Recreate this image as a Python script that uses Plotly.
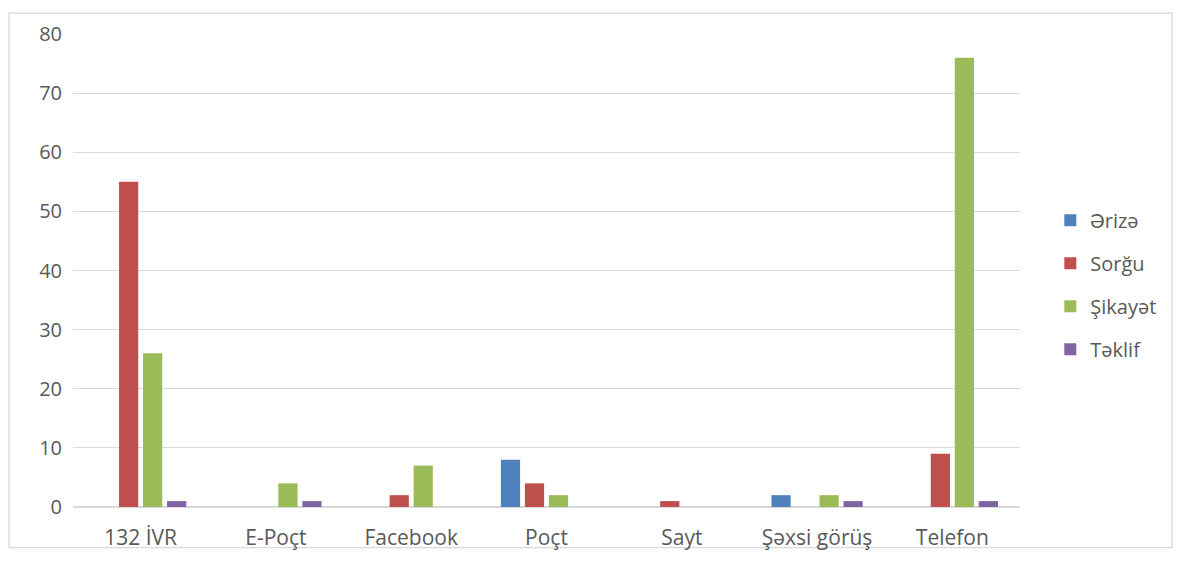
import plotly.graph_objects as go

categories = ["132 İVR", "E-Poçt", "Facebook", "Poçt", "Sayt", "Şəxsi görüş", "Telefon"]
series_names = ["Ərizə", "Sorğu", "Şikayət", "Təklif"]
erize = [0, 0, 0, 8, 0, 2, 0]
sorgu = [55, 0, 2, 4, 1, 0, 9]
sikayet = [26, 4, 7, 2, 0, 2, 76]
teklif = [1, 1, 0, 0, 0, 1, 1]
colors = ["#4F81BD", "#C0504D", "#9BBB59", "#8064A2"]

fig = go.Figure()
for i, (name, vals) in enumerate(zip(series_names, [erize, sorgu, sikayet, teklif])):
    fig.add_trace(go.Bar(
        x=categories, y=vals, name=name,
        marker=dict(color=colors[i], line=dict(width=0)),
        legendgroup=name,
    ))

L, T, PW, PH = 65, 22, 947, 477
font_family = "Open Sans, Lato, sans-serif"
fig.update_layout(
    width=1181, height=562,
    margin=dict(l=L, r=1181 - L - PW, t=T, b=562 - T - PH),
    paper_bgcolor="white", plot_bgcolor="white",
    barmode="group", bargap=0.29, bargroupgap=0.2,
    font=dict(family=font_family, size=20, color="#595959"),
    legend=dict(x=1.032, y=0.47, xanchor="left", yanchor="middle",
                tracegroupgap=14, font=dict(size=20, color="#595959")),
    xaxis=dict(showgrid=False, showline=False, ticks="", tickfont=dict(size=21),
               ticklabelstandoff=16),
    yaxis=dict(range=[0, 80], dtick=10, showgrid=True, gridcolor="#D9D9D9", gridwidth=1.3,
               zeroline=True, zerolinecolor="#D9D9D9", zerolinewidth=1.5,
               showline=False, ticks="", ticklabelstandoff=10, tickfont=dict(size=20)),
    shapes=[dict(type="rect", xref="paper", yref="paper",
                 x0=(1 - L) / PW, x1=(1164 - L) / PW,
                 y0=-(540 - T - PH) / PH, y1=(PH + T - 1) / PH,
                 line=dict(color="#D9D9D9", width=1.3), fillcolor="rgba(0,0,0,0)", layer="below")],
)
fig.write_html("out.html")
